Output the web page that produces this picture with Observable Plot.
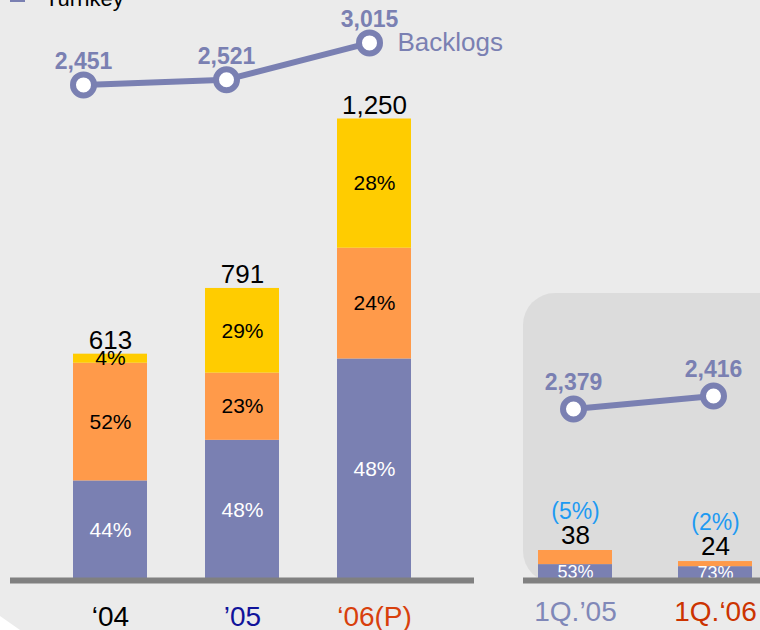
<!DOCTYPE html>
<html><head><meta charset="utf-8">
<script src="https://cdn.jsdelivr.net/npm/d3@7"></script>
<script src="https://cdn.jsdelivr.net/npm/@observablehq/plot@0.6"></script>
<style>
html,body{margin:0;padding:0;background:#fff;}
#stage{position:relative;width:760px;height:630px;overflow:hidden;font-family:"Liberation Sans",Arial,sans-serif;}
#bg{position:absolute;left:0;top:0;width:760px;height:630px;background:#ebebeb;clip-path:polygon(0 0,100% 0,100% 100%,20px 100%,0 616px);}
#panel{position:absolute;left:523px;top:293px;width:290px;height:290px;background:#dcdcdc;border-radius:32px;}
.layer{position:absolute;top:0;}
#swatch{position:absolute;left:10px;top:-13px;width:15px;height:15px;background:#7a80b2;}
#legtext{position:absolute;left:45px;top:-12px;font-size:22px;line-height:22px;color:#000;white-space:nowrap;}
</style>
</head><body>
<div id="stage">
  <div id="bg"></div>
  <div id="panel"></div>
  <div id="swatch"></div><div id="legtext">Turnkey</div>
  <div class="layer" id="mainBars" style="left:0"></div>
  <div class="layer" id="mainLine" style="left:0"></div>
  <div class="layer" id="qBars" style="left:500px"></div>
  <div class="layer" id="qLine" style="left:500px"></div>
</div>
<script>
// ---- data ----
const years = ["‘04", "’05", "‘06(P)"];
const yearColors = ["#000000", "#10139a", "#d8400c"];
const totals = [613, 791, 1250];
const turnkeyPct = [44, 48, 48];
const segBPct = [52, 23, 24];
const segCPct = [4, 29, 28];
const backlogs = [2451, 2521, 3015];

const quarters = ["1Q.’05", "1Q.‘06"];
const quarterColors = ["#8088b8", "#cc3300"];
const qTotals = [38, 24];
const qTurnkeyPct = [53, 73];
const qSegBPct = [47, 27];
const qMargins = ["(5%)", "(2%)"];
const qBacklogs = [2379, 2416];

const seriesNames = ["Turnkey", "Segment B", "Segment C"];
const seriesColors = {"Turnkey": "#7a80b2", "Segment B": "#ff9a4a", "Segment C": "#ffcc00"};
const ink = "#7a80b2";
const font = "'Liberation Sans', Arial, sans-serif";
const fmt = d3.format(",");

const mainRows = years.flatMap((yr, i) =>
  [turnkeyPct[i], segBPct[i], segCPct[i]].map((p, j) => ({year: yr, series: seriesNames[j], pct: p, value: totals[i] * p / 100})));
const totalRows = years.map((yr, i) => ({year: yr, total: totals[i]}));
const backlogRows = years.map((yr, i) => ({year: yr, value: backlogs[i]}));

const qRows = quarters.flatMap((q, i) =>
  [qTurnkeyPct[i], qSegBPct[i]].map((p, j) => ({year: q, series: seriesNames[j], pct: p, value: qTotals[i] * p / 100})));
const qTotalRows = quarters.map((q, i) => ({year: q, total: qTotals[i], margin: qMargins[i]}));
const qBacklogRows = quarters.map((q, i) => ({year: q, value: qBacklogs[i]}));

const style = {fontFamily: font, background: "transparent", overflow: "visible"};

// ---- main bars ----
document.getElementById("mainBars").append(Plot.plot({
  width: 500, height: 630,
  marginLeft: 10, marginRight: 26, marginTop: 118.5, marginBottom: 50,
  x: {domain: years, paddingInner: 0.4415, paddingOuter: 0.4717, axis: null},
  y: {domain: [0, 1250], axis: null},
  color: {type: "identity"},
  style,
  marks: [
    Plot.barY(mainRows, {x: "year", y: "value", z: "series", fill: d => seriesColors[d.series]}),
    Plot.text(mainRows, Plot.stackY({x: "year", y: "value", z: "series", text: d => d.pct + "%",
      fill: d => d.series === "Turnkey" ? "white" : "black", fontSize: 21})),
    Plot.ruleY([0], {stroke: "#808080", strokeWidth: 6}),
    Plot.text(totalRows, {x: "year", y: "total", text: d => fmt(d.total), lineAnchor: "bottom", dy: -5, fontSize: 26, fill: "black"}),
    Plot.text(years, {x: d => d, frameAnchor: "bottom", lineAnchor: "bottom", dy: 45, fontSize: 28, text: d => d, fill: (d, i) => yearColors[i]})
  ]
}));

// ---- main backlog line ----
document.getElementById("mainLine").append(Plot.plot({
  width: 500, height: 630, margin: 0,
  x: {type: "point", domain: years, range: [83, 369], padding: 0, axis: null},
  y: {domain: [2451, 3015], range: [84.4, 42.4], axis: null},
  style,
  marks: [
    Plot.line(backlogRows, {x: "year", y: "value", stroke: ink, strokeWidth: 6}),
    Plot.dot(backlogRows, {x: "year", y: "value", r: 10.5, fill: "white", stroke: ink, strokeWidth: 6}),
    Plot.text(backlogRows, {x: "year", y: "value", text: d => fmt(d.value), lineAnchor: "bottom", dy: -16, fontSize: 23, fontWeight: "bold", fill: ink}),
    Plot.text(backlogRows.slice(-1), {x: "year", y: "value", text: () => "Backlogs", textAnchor: "start", lineAnchor: "middle", dx: 28, fontSize: 26, fill: ink})
  ]
}));

// ---- quarterly bars ----
document.getElementById("qBars").append(Plot.plot({
  width: 260, height: 630,
  marginLeft: 23, marginRight: 0, marginTop: 550, marginBottom: 50,
  x: {domain: quarters, paddingInner: 0.4714, paddingOuter: 0.082, align: 0.65, axis: null},
  y: {domain: [0, 38], axis: null},
  color: {type: "identity"},
  style,
  marks: [
    Plot.barY(qRows, {x: "year", y: "value", z: "series", fill: d => seriesColors[d.series]}),
    Plot.text(qRows.filter(d => d.series === "Turnkey"), {x: "year", y: d => d.value / 2, text: d => d.pct + "%", fill: "white", fontSize: 18}),
    Plot.ruleY([0], {stroke: "#808080", strokeWidth: 6}),
    Plot.text(qTotalRows, {x: "year", y: "total", text: d => fmt(d.total), lineAnchor: "bottom", dy: -7, fontSize: 26, fill: "black"}),
    Plot.text(qTotalRows, {x: "year", y: "total", text: "margin", lineAnchor: "bottom", dy: -32, fontSize: 23, fill: "#1e9af2"}),
    Plot.text(quarters, {x: d => d, frameAnchor: "bottom", lineAnchor: "bottom", dy: 40, fontSize: 28, text: d => d, fill: (d, i) => quarterColors[i]})
  ]
}));

// ---- quarterly backlog line ----
document.getElementById("qLine").append(Plot.plot({
  width: 260, height: 630, margin: 0,
  x: {type: "point", domain: quarters, range: [73, 213], padding: 0, axis: null},
  y: {domain: [2379, 2416], range: [408.5, 395.5], axis: null},
  style,
  marks: [
    Plot.line(qBacklogRows, {x: "year", y: "value", stroke: ink, strokeWidth: 6}),
    Plot.dot(qBacklogRows, {x: "year", y: "value", r: 10.5, fill: "white", stroke: ink, strokeWidth: 6}),
    Plot.text(qBacklogRows, {x: "year", y: "value", text: d => fmt(d.value), lineAnchor: "bottom", dy: -19, fontSize: 23, fontWeight: "bold", fill: ink})
  ]
}));
</script>
</body></html>
